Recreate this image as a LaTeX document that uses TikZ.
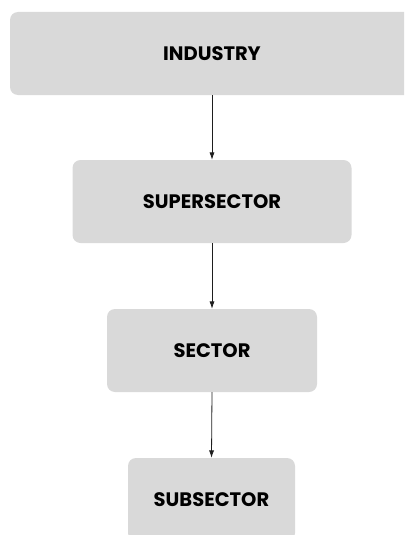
\documentclass[tikz,border=0pt]{standalone}
\usepackage{fontspec}
\setsansfont{Poppins}
\usepackage{tikz}
\usetikzlibrary{arrows.meta}
\definecolor{boxgray}{HTML}{D9D9D9}
\definecolor{arrowgray}{HTML}{1E1E1E}
\tikzset{levelbox/.style={rectangle, rounded corners=8pt, fill=boxgray, minimum height=83pt, inner sep=0pt, text=black, font=\sffamily\bfseries\fontsize{19.5}{22}\selectfont}}
\newcommand{\levelnode}[4] {\node at (#1) (#2) [levelbox, minimum width=#3] {#4};}
\newcommand{\levelarrow}[2] {\draw [arrowgray, line width=0.8pt, -{Latex[length=2.6mm,width=1.8mm]}] (#1.south) -- (#2.north);}

\begin{document}
\begin{tikzpicture}[x=1pt,y=-1pt]
\clip (0,0) rectangle (404,535);

\levelnode {212,53.5} {industry} {404pt} {INDUSTRY};
\levelnode {212,201.5} {supersector} {279pt} {SUPERSECTOR};
\levelnode {212,350.5} {sector} {210pt} {SECTOR};
\levelnode {211.5,499.5} {subsector} {167pt} {SUBSECTOR};

\levelarrow{industry}{supersector};
\levelarrow{supersector}{sector};
\levelarrow{sector}{subsector};
\end{tikzpicture}
\end{document}
